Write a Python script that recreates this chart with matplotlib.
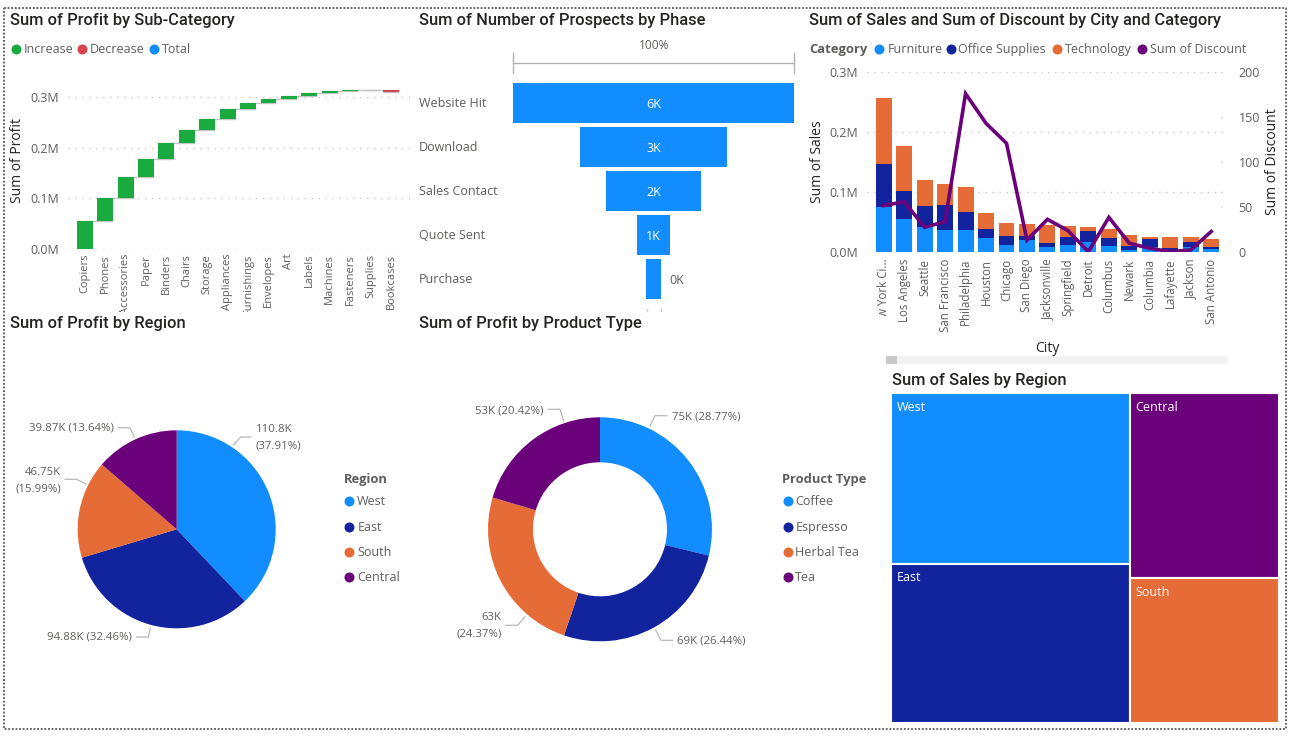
import matplotlib
matplotlib.use("Agg")
import matplotlib.pyplot as plt
import numpy as np
from matplotlib.transforms import Bbox

# =====================================================
# DATA
# =====================================================

sub_categories = ["Copiers", "Phones", "Accessories", "Paper", "Binders", "Chairs", "Storage", "Appliances",
                  "Furnishings", "Envelopes", "Art", "Labels", "Machines", "Fasteners", "Supplies", "Bookcases"]
profit_change = [56.0, 45.0, 42.0, 34.0, 32.0, 27.0, 21.0, 19.0, 13.0, 7.4, 5.9, 5.3, 3.9, 3.0, -0.4, -3.5]

phases = ["Website Hit", "Download", "Sales Contact", "Quote Sent", "Purchase"]
prospects = [6000, 3150, 2020, 690, 306]
prospect_labels = ["6K", "3K", "2K", "1K", "0K"]

cities = ["New York Ci...", "Los Angeles", "Seattle", "San Francisco", "Philadelphia", "Houston", "Chicago",
          "San Diego", "Jacksonville", "Springfield", "Detroit", "Columbus", "Newark", "Columbia", "Lafayette",
          "Jackson", "San Antonio"]
furniture = [.0758, .0548, .0415, .0371, .0371, .0238, .0127, .0205, .0094, .0122, .0166, .0105, .0039, .0094,
             .0011, .0089, .0055]
office = [.0714, .0476, .0354, .0415, .0304, .0155, .0139, .0072, .0061, .0133, .0183, .0127, .0061, .0127,
          .0055, .0083, .0039]
technology = [.1096, .0736, .0426, .0343, .0415, .0254, .0221, .0199, .0293, .0182, .0077, .0155, .0188, .0034,
              .0189, .0083, .0127]
discount = [51.7, 56, 27.7, 34, 175.6, 142.8, 120.7, 13.6, 36.5, 24, 0.7, 38.7, 10, 4.4, 0.7, 2.6, 23]

regions = ["West", "East", "South", "Central"]
region_profit = [110.8, 94.88, 46.75, 39.87]

product_types = ["Coffee", "Espresso", "Herbal Tea", "Tea"]
product_share = [28.77, 26.44, 24.37, 20.42]

sales_west, sales_east, sales_central, sales_south = 730, 684, 497, 389

# =====================================================
# STYLE
# =====================================================

BLUE = "#118DFF"
NAVY = "#12239E"
ORANGE = "#E66C37"
PURPLE = "#6B007B"
GREEN = "#1AAB40"
RED = "#D64550"
DARK = "#252423"
GREY = "#605E5C"
GRID = "#C8C8C8"
LEADER = "#B8B8B8"

W, H = 1295, 737
TITLE_FONT = "Roboto"
BODY_FONT = "Open Sans"
dots = (0, (1, 4))

plt.rcParams["font.family"] = BODY_FONT

fig = plt.figure(figsize=(W / 100, H / 100), dpi=100, facecolor="white")


def px_axes(left, top, right, bottom, **kwargs):
    ax = fig.add_axes([left / W, 1 - bottom / H, (right - left) / W, (bottom - top) / H], **kwargs)
    ax.patch.set_alpha(0)
    return ax


def clean(ax):
    for side in ax.spines.values():
        side.set_visible(False)
    ax.tick_params(length=0)


# page layer in pixel coordinates, for titles, legends and leaders
page = px_axes(0, 0, W, H, zorder=5)
page.set_xlim(0, W)
page.set_ylim(H, 0)
page.axis("off")


def title(x, y, text):
    page.text(x, y, text, fontsize=11.9, color=DARK, family=TITLE_FONT, weight=500, va="center", ha="left")


def label(x, y, text, ha="left", color=GREY, size=9.0, weight="normal"):
    page.text(x, y, text, fontsize=size, color=color, va="center", ha=ha, weight=weight)


def dot(x, y, color):
    page.plot([x], [y], "o", ms=7.2, color=color, mew=0)


def leader(xs, ys):
    page.plot(xs, ys, color=LEADER, lw=0.9)


# report border
page.plot([4, 1286, 1286, 4, 4], [8, 8, 729.3, 729.3, 8], color="#555555", lw=1.3, linestyle=(0, (1, 1)))

# =====================================================
# WATERFALL
# =====================================================

title(10.5, 20.5, "Sum of Profit by Sub-Category")
for x_dot, x_text, color, text in [(15.7, 23.3, GREEN, "Increase"), (82, 90, RED, "Decrease"), (154, 162, BLUE, "Total")]:
    dot(x_dot, 48.7, color)
    label(x_text, 49.5, text)

ax = px_axes(67.7, 85, 410, 249)
clean(ax)
ax.set_xlim(-0.833, 15.93)
ax.set_ylim(0, 0.3 * (249 - 85) / (249 - 97.3))

totals = np.cumsum(profit_change) / 1000
starts = np.r_[0, totals[:-1]]
colors = [GREEN if c > 0 else RED for c in profit_change]
ax.bar(range(len(totals)), totals - starts, bottom=starts, width=0.78, color=colors, zorder=3)
for i in range(len(totals)):
    x_end = min(i + 1.39, len(totals) - 0.61)
    ax.plot([i - 0.39, x_end], [totals[i], totals[i]], color="#C4C4C4", lw=1, zorder=2, solid_capstyle="butt")

ax.set_yticks([0, 0.1, 0.2, 0.3])
ax.set_yticklabels(["0.0M", "0.1M", "0.2M", "0.3M"], color=GREY, fontsize=8.9)
ax.tick_params(axis="y", pad=6)
ax.grid(axis="y", color=GRID, lw=1, linestyle=dots)
ax.set_axisbelow(True)
ax.set_xticks(range(len(sub_categories)))
ax.set_xticklabels(sub_categories, rotation=90, color=GREY, fontsize=8.0)
ax.tick_params(axis="x", pad=3.5)
clip = Bbox([[0, H - 311.5], [W, H]])
for t in ax.get_xticklabels():
    t.set_clip_box(clip)
    t.set_clip_on(True)
page.text(18, 160, "Sum of Profit", rotation=90, fontsize=10, color=DARK, ha="center", va="center")

# =====================================================
# FUNNEL
# =====================================================

title(419, 20.5, "Sum of Number of Prospects by Phase")
ax = px_axes(513.3, 81.3, 793.7, 301.3)
ax.axis("off")
ax.set_xlim(-prospects[0] / 2, prospects[0] / 2)
ax.set_ylim(4.5, -0.5)
ax.barh(range(len(phases)), prospects, left=[-p / 2 for p in prospects], height=40 / 44, color=BLUE)

for i, (phase, text) in enumerate(zip(phases, prospect_labels)):
    y_px = 103.8 + 44 * i
    label(419, y_px, phase)
    if i < 4:
        label(653.5, y_px + 1, text, ha="center", color="white")
    else:
        label(669, y_px + 1, text)

label(654.5, 45.7, "100%", ha="center", size=8.6)
page.plot([513.3, 793.7], [63.3, 63.3], color="#B3B3B3", lw=1)
page.plot([513.3, 513.3], [53.3, 73.3], color="#B3B3B3", lw=1)
page.plot([793.7, 793.7], [53.3, 73.3], color="#B3B3B3", lw=1)
page.plot([646.5, 646.5], [308.5, 311], color="#CFCFCF", lw=1)
page.plot([660.5, 660.5], [308.5, 311], color="#CFCFCF", lw=1)

# =====================================================
# COMBO CHART
# =====================================================

title(809, 20.5, "Sum of Sales and Sum of Discount by City and Category")
label(809, 49.5, "Category", color=GREY, weight="bold", size=9.4)
for x_dot, x_text, color, text in [(879, 887.3, BLUE, "Furniture"), (950.7, 958.3, NAVY, "Office Supplies"),
                                   (1057, 1064.7, ORANGE, "Technology"), (1141.7, 1149.7, PURPLE, "Sum of Discount")]:
    dot(x_dot, 48.7, color)
    label(x_text, 49.5, text)

ax = px_axes(866.7, 71.7, 1228, 252.3)
clean(ax)
ax.set_xlim(-0.83, 16.82)
ax.set_ylim(0, 0.3)
x = np.arange(len(cities))
bottom = np.zeros(len(cities))
for values, color in [(furniture, BLUE), (office, NAVY), (technology, ORANGE)]:
    ax.bar(x, values, bottom=bottom, width=0.78, color=color, zorder=3)
    bottom += np.array(values)
ax.set_yticks([0, 0.1, 0.2, 0.3])
ax.set_yticklabels(["0.0M", "0.1M", "0.2M", "0.3M"], color=GREY, fontsize=8.9)
ax.tick_params(axis="y", pad=6)
ax.grid(axis="y", color=GRID, lw=1, linestyle=dots)
ax.set_axisbelow(True)
ax.set_xticks(x)
ax.set_xticklabels(cities, rotation=90, color=GREY, fontsize=8.3)
ax.tick_params(axis="x", pad=4.5)
nyc = ax.get_xticklabels()[0]
nyc.set_clip_box(Bbox([[0, H - 316], [W, H]]))
nyc.set_clip_on(True)

ax2 = ax.twinx()
clean(ax2)
ax2.patch.set_alpha(0)
ax2.set_ylim(0, 200)
ax2.plot(x, discount, color=PURPLE, lw=2.6, zorder=5, solid_joinstyle="miter")
ax2.set_yticks([0, 50, 100, 150, 200])
ax2.set_yticklabels(["0", "50", "100", "150", "200"], color=GREY, fontsize=8.9)
ax2.tick_params(axis="y", pad=7.5)
for value in [50, 100, 150]:
    ax2.plot([0.98, 1], [value / 200, value / 200], color=GRID, lw=1, linestyle=dots, transform=ax2.transAxes)

page.text(817.3, 161.7, "Sum of Sales", rotation=90, fontsize=10, color=DARK, ha="center", va="center")
page.text(1272, 161.7, "Sum of Discount", rotation=90, fontsize=10, color=DARK, ha="center", va="center")
page.text(1047.3, 348.3, "City", fontsize=10, color=DARK, ha="center", va="center")

# scrollbar under the city axis
page.fill_between([886, 1228], 356, 364, color="#F3F3F3", lw=0)
page.fill_between([886, 897], 356, 364, color="#C8C8C8", lw=0)

# =====================================================
# PIE
# =====================================================

title(10.5, 323, "Sum of Profit by Region")
ax = px_axes(77.7, 430.3, 275.7, 628.3)
ax.pie(region_profit, colors=[BLUE, NAVY, ORANGE, PURPLE], startangle=90, counterclock=False, radius=1)
ax.set_xlim(-1, 1)
ax.set_ylim(-1, 1)

leader([233.3, 240.7, 250.7], [445.3, 437, 437])
label(255.5, 429.7, "110.8K", size=8.2)
label(255.5, 445.7, "(37.91%)", size=8.2)
leader([134.3, 130, 118.3], [437, 427.7, 427.7])
label(114, 428, "39.87K (13.64%)", ha="right", size=8.2)
leader([86, 76.7, 65], [484, 479.3, 479.3])
label(61, 472.7, "46.75K", ha="right", size=8.2)
label(61, 488.7, "(15.99%)", ha="right", size=8.2)
leader([150.3, 148.3, 136.7], [628.3, 637, 637])
label(131.7, 637.3, "94.88K (32.46%)", ha="right", size=8.2)

label(344, 479.3, "Region", weight="bold", size=9.3)
for i, (region, color) in enumerate(zip(regions, [BLUE, NAVY, ORANGE, PURPLE])):
    y_px = [501.3, 527.3, 552.3, 577.3][i]
    dot(349, y_px - 0.7, color)
    label(357.3, y_px, region)

# =====================================================
# DONUT
# =====================================================

title(419, 323, "Sum of Profit by Product Type")
ax = px_axes(488, 417.3, 712, 641.3)
ax.pie(product_share, colors=[BLUE, NAVY, ORANGE, PURPLE], startangle=90, counterclock=False, radius=1,
       wedgeprops=dict(width=1 - 67 / 112))
ax.set_xlim(-1, 1)
ax.set_ylim(-1, 1)

leader([650, 655, 666.7], [426, 415.7, 415.7])
label(671.7, 416.7, "75K (28.77%)", size=8.2)
leader([655.7, 661, 672.7], [630, 640.3, 640.3])
label(677, 640.7, "69K (26.44%)", size=8.2)
leader([525, 517.7, 505.7], [616.7, 625.3, 625.3])
label(501.7, 617.7, "63K", ha="right", size=8.2)
label(501.7, 633.7, "(24.37%)", ha="right", size=8.2)
leader([563.7, 560, 548.3], [421, 409.3, 409.3])
label(543.7, 410.7, "53K (20.42%)", ha="right", size=8.2)

label(782, 479.3, "Product Type", weight="bold", size=9.3)
for i, (product, color) in enumerate(zip(product_types, [BLUE, NAVY, ORANGE, PURPLE])):
    y_px = [501.3, 527.3, 552.3, 577.3][i]
    dot(787.7, y_px - 0.7, color)
    label(795.3, y_px, product)

# =====================================================
# TREEMAP
# =====================================================

title(891.7, 380, "Sum of Sales by Region")
ax = px_axes(891.3, 393.3, 1279, 723.3)
ax.axis("off")
total_sales = sales_west + sales_east + sales_central + sales_south
left_share = (sales_west + sales_east) / total_sales
west_share = sales_west / (sales_west + sales_east)
central_share = sales_central / (sales_central + sales_south)
ax.set_xlim(0, 1)
ax.set_ylim(1, 0)
ax.bar(left_share / 2, west_share, width=left_share, bottom=0, color=BLUE, edgecolor="white", lw=1.5)
ax.bar(left_share / 2, 1 - west_share, width=left_share, bottom=west_share, color=NAVY, edgecolor="white", lw=1.5)
ax.bar((1 + left_share) / 2, central_share, width=1 - left_share, bottom=0, color=PURPLE, edgecolor="white", lw=1.5)
ax.bar((1 + left_share) / 2, 1 - central_share, width=1 - left_share, bottom=central_share, color=ORANGE,
       edgecolor="white", lw=1.5)
for x_txt, y_txt, text in [(0, 0, "West"), (0, west_share, "East"), (left_share, 0, "Central"), (left_share, central_share, "South")]:
    ax.annotate(text, (x_txt, y_txt), xytext=(4, -10), textcoords="offset points", color="white", fontsize=9,
                va="center", ha="left")

fig.savefig("out.png", dpi=100)
